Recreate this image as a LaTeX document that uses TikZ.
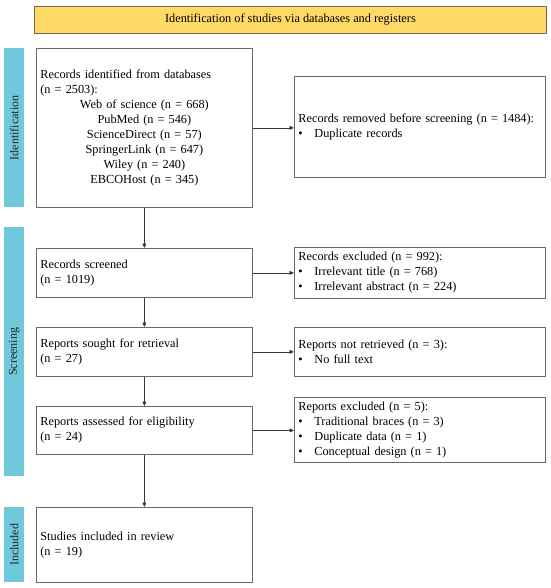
\documentclass[tikz,border=0pt]{standalone}
\usepackage{fontspec}
\setmainfont{Liberation Serif}
\usetikzlibrary{arrows.meta}
\definecolor{hdrfill}{RGB}{255,217,102}
\definecolor{hdrline}{RGB}{115,105,75}
\definecolor{barfill}{RGB}{111,201,219}
\definecolor{boxline}{RGB}{105,105,105}
\definecolor{arrline}{RGB}{55,55,55}
\newcommand{\bul}{\makebox[16pt][l]{\textbullet}}
\begin{document}
\begin{tikzpicture}[x=1pt,y=1pt,
  every node/.style={font=\fontsize{12.3}{15}\selectfont},
  lbox/.style={draw=boxline, line width=0.75pt, rectangle, anchor=north west,
    inner xsep=4pt, inner ysep=0pt, text width=208pt, minimum width=216pt, align=left},
  rbox/.style={draw=boxline, line width=0.75pt, rectangle, anchor=north west,
    inner xsep=4pt, inner ysep=0pt, text width=243pt, minimum width=251pt, align=left},
  sidebar/.style={fill=barfill, draw=none, anchor=north west, minimum width=20pt, inner sep=0pt},
  bartext/.style={rotate=90, text=black!85, font=\fontsize{12}{14}\selectfont},
  flow/.style={draw=arrline, line width=0.6pt, -{Triangle[length=4.5pt,width=4pt]}}
]
\useasboundingbox (0,0) rectangle (550,-588);

\node[draw=hdrline, fill=hdrfill, line width=0.8pt, minimum width=512pt, minimum height=27pt,
  anchor=north west, inner sep=0pt] (hdr) at (34,-6) {Identification of studies via databases and registers};

% side bars
\node[sidebar, minimum height=159pt] (barI) at (4,-48) {};
\node[bartext] (barIt) at (barI.center) {Identification};
\node[sidebar, minimum height=249pt] (barS) at (4,-227) {};
\node[bartext] (barSt) at (barS.center) {Screening};
\node[sidebar, minimum height=75pt] (barN) at (4,-507) {};
\node[bartext] (barNt) at (barN.center) {Included};

% left column
\node[lbox, minimum height=159pt] (ident) at (36,-48) {Records identified from databases\\(n = 2503):\par
  \centering Web of science (n = 668)\\PubMed (n = 546)\\ScienceDirect (n = 57)\\SpringerLink (n = 647)\\Wiley (n = 240)\\EBCOHost (n = 345)\par};
\node[lbox, minimum height=49pt] (screened) at (36,-248) {Records screened\\(n = 1019)};
\node[lbox, minimum height=49pt] (sought) at (36,-327) {Reports sought for retrieval\\(n = 27)};
\node[lbox, minimum height=48pt] (assessed) at (36,-406) {Reports assessed for eligibility\\(n = 24)};
\node[lbox, minimum height=75pt] (included) at (36,-507) {Studies included in review\\(n = 19)};

% right column
\node[rbox, minimum height=101pt] (removed) at (294,-76) {Records removed before screening (n = 1484):\\\bul Duplicate records};
\node[rbox, minimum height=51pt] (excluded) at (294,-247) {Records excluded (n = 992):\\\bul Irrelevant title (n = 768)\\\bul Irrelevant abstract (n = 224)};
\node[rbox, minimum height=49pt] (notret) at (294,-327) {Reports not retrieved (n = 3):\\\bul No full text};
\node[rbox, minimum height=65pt] (repexcl) at (294,-397) {Reports excluded (n = 5):\\\bul Traditional braces (n = 3)\\\bul Duplicate data (n = 1)\\\bul Conceptual design (n = 1)};

% vertical arrows
\draw[flow] (ident.south) -- (screened.north);
\draw[flow] (screened.south) -- (sought.north);
\draw[flow] (sought.south) -- (assessed.north);
\draw[flow] (assessed.south) -- (included.north);

% horizontal arrows
\draw[flow] (ident.east) -- (ident.east -| removed.west);
\draw[flow] (screened.east) -- (screened.east -| excluded.west);
\draw[flow] (sought.east) -- (sought.east -| notret.west);
\draw[flow] (assessed.east) -- (assessed.east -| repexcl.west);
\end{tikzpicture}
\end{document}
